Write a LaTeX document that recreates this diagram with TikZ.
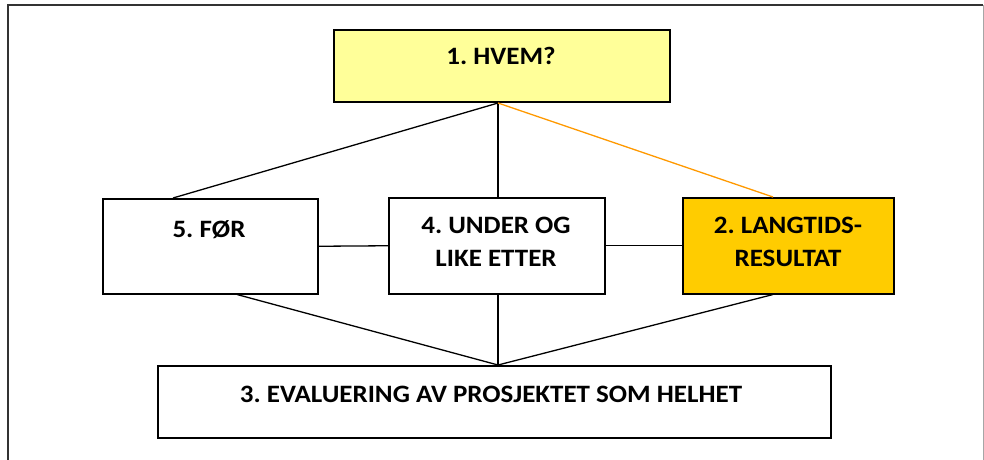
\documentclass[tikz,border=0pt]{standalone}
\usepackage{fontspec}
\setmainfont{Carlito}
\usetikzlibrary{calc}
\definecolor{paleyellow}{HTML}{FFFF99}
\definecolor{gold}{HTML}{FFCC00}
\definecolor{linkorange}{HTML}{FF9900}
\begin{document}
\begin{tikzpicture}[x=1pt,y=-1pt,
  box/.style={draw=black,line width=1.5pt,rectangle,inner sep=0pt,anchor=north west},
  txt/.style={font=\frenchspacing\bfseries\fontsize{25}{33}\selectfont,anchor=base,inner sep=0pt,xscale=1.08},
  link/.style={draw=black,line width=1.3pt},
  hilink/.style={draw=linkorange,line width=1.3pt}]
\useasboundingbox (0,0) rectangle (984,459);
% outer frame
\draw[line width=2pt,black!80] (8,460) -- (8,5) -- (983,5);
\draw[line width=1pt,black!35] (983,5) -- (983,460);

% boxes
\node[box,fill=paleyellow,minimum width=336pt,minimum height=72pt] (b1) at (333,29) {};
\node[box,minimum width=215pt,minimum height=95pt] (b5) at (102,198) {};
\node[box,minimum width=216pt,minimum height=96pt] (b4) at (388,197) {};
\node[box,fill=gold,minimum width=211pt,minimum height=96pt] (b2) at (682,197) {};
\node[box,minimum width=673pt,minimum height=72pt] (b3) at (157,365) {};

% labels
\node[txt] (l1) at (501,64.5) {1. HVEM?};
\node[txt] (l5) at (209,237) {5. FØR};
\node[txt] (l4a) at (496,233.5) {4. UNDER OG};
\node[txt] (l4b) at (496,266) {LIKE ETTER};
\node[txt] (l2a) at (788,233) {2. LANGTIDS-};
\node[txt] (l2b) at (788,266) {RESULTAT};
\node[txt] (l3) at (491,402.5) {3. EVALUERING AV PROSJEKTET SOM HELHET};

% junctions
\coordinate (top) at (498,103);
\coordinate (bot) at (498,365);

% connectors
\draw[link] (top) -- ([xshift=71pt]b5.north west);
\draw[link] (top) -- (top |- b4.north);
\draw[hilink] (top) -- ([xshift=91pt]b2.north west);
\draw[link] (b5.east) -- (b4.west);
\draw[link] (b4.east) -- (b2.west);
\draw[link] ([xshift=135pt]b5.south west) -- (bot);
\draw[link] (bot |- b4.south) -- (bot);
\draw[link] ([xshift=91pt]b2.south west) -- (bot);
\end{tikzpicture}
\end{document}
